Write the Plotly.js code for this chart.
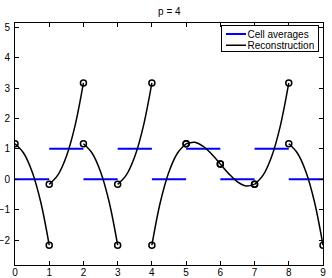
<!DOCTYPE html>
<html>
<head>
<meta charset="utf-8">
<script src="https://cdn.plot.ly/plotly-3.0.1.min.js"></script>
<style>html,body{margin:0;padding:0;background:#fff;}#chart{width:332px;height:278px;}</style>
</head>
<body>
<div id="chart"></div>
<script>
// Cell edges and cell averages
var cellLeft = [0, 1, 2, 3, 4, 5, 6, 7, 8];
var cellAverages = [0, 1, 0, 1, 0, 1, 0, 1, 0];
// Sample positions inside each cell (offset from cell's left edge)
var sampleOffsets = [0, 0.25, 0.5, 0.75, 1];
// Reconstruction values read at those positions in each cell
var recon0 = [1.167, 0.865, 0.25, -0.74, -2.167];
var recon1 = [-0.167, 0.135, 0.75, 1.74, 3.167];
var recon2 = [1.167, 0.865, 0.25, -0.74, -2.167];
var recon3 = [-0.167, 0.135, 0.75, 1.74, 3.167];
var recon4 = [-2.167, -0.74, 0.25, 0.865, 1.167];
var recon5 = [1.167, 1.219, 1.083, 0.823, 0.5];
var recon6 = [0.5, 0.177, -0.083, -0.219, -0.167];
var recon7 = [-0.167, 0.135, 0.75, 1.74, 3.167];
var recon8 = [1.167, 0.865, 0.25, -0.74, -2.167];
var reconCells = [recon0, recon1, recon2, recon3, recon4, recon5, recon6, recon7, recon8];

var avgX = [], avgY = [];
cellLeft.forEach(function (l, i) {
  avgX.push(l, l + 1, null);
  avgY.push(cellAverages[i], cellAverages[i], null);
});

var recX = [], recY = [], endX = [], endY = [];
reconCells.forEach(function (vals, i) {
  vals.forEach(function (v, k) {
    recX.push(cellLeft[i] + sampleOffsets[k]);
    recY.push(v);
  });
  recX.push(null); recY.push(null);
  endX.push(cellLeft[i] + sampleOffsets[0], cellLeft[i] + sampleOffsets[sampleOffsets.length - 1]);
  endY.push(vals[0], vals[vals.length - 1]);
});

var traces = [
  {x: avgX, y: avgY, mode: 'lines', name: 'Cell averages',
   line: {color: '#0000ff', width: 2}, connectgaps: false},
  {x: recX, y: recY, mode: 'lines', name: 'Reconstruction',
   line: {color: '#000000', width: 1.5, shape: 'spline', smoothing: 1}, connectgaps: false},
  {x: endX, y: endY, mode: 'markers', showlegend: false, hoverinfo: 'skip',
   marker: {symbol: 'circle-open', size: 6, color: '#000000', line: {width: 1.5, color: '#000000'}}}
];

var fontFam = 'Liberation Sans, Arial, sans-serif';
var axisCommon = {
  showgrid: false, zeroline: false, showline: true, linecolor: '#000', linewidth: 1,
  mirror: 'ticks', ticks: 'inside', ticklen: 4, tickcolor: '#000', tickwidth: 1,
  tickfont: {family: fontFam, size: 10, color: '#000'}
};

var layout = {
  width: 332, height: 278,
  margin: {l: 15, r: 9, t: 23, b: 13, pad: 0},
  paper_bgcolor: '#fff', plot_bgcolor: '#fff',
  title: {text: 'p = 4', x: 0.51, xanchor: 'center', y: 0.957, yanchor: 'middle',
          font: {family: fontFam, size: 10, color: '#000'}},
  xaxis: Object.assign({}, axisCommon, {range: [0, 9], tickvals: [0,1,2,3,4,5,6,7,8,9], automargin: false, ticklabelstandoff: -2}),
  yaxis: Object.assign({}, axisCommon, {range: [-2.82, 5.14], tickvals: [-2,-1,0,1,2,3,4,5], automargin: false, ticklabelstandoff: 2}),
  showlegend: true,
  legend: {x: 0.996, xanchor: 'right', y: 0.979, yanchor: 'top',
           bgcolor: '#fff', bordercolor: '#000', borderwidth: 1,
           font: {family: fontFam, size: 10, color: '#000'},
           tracegroupgap: 0, itemwidth: 30}
};

Plotly.newPlot('chart', traces, layout, {staticPlot: true, displayModeBar: false}).then(function (gd) {
  // Compact the legend box to match the MATLAB-style legend
  var leg = gd.querySelector('g.legend');
  if (!leg) return;
  leg.setAttribute('transform', 'translate(221.5,25)');
  var bg = leg.querySelector('rect.bg');
  if (bg) {
    bg.setAttribute('x', '0'); bg.setAttribute('y', '0');
    bg.setAttribute('width', '97'); bg.setAttribute('height', '26');
  }
  var items = leg.querySelectorAll('g.traces');
  items.forEach(function (it, i) {
    it.setAttribute('transform', 'translate(0,' + (9 + i * 11.3) + ')');
    it.querySelectorAll('g.legendlines path, path.js-line').forEach(function (ln) {
      ln.setAttribute('d', 'M4.5,0h20');
    });
    var tx = it.querySelector('text.legendtext');
    if (tx) tx.setAttribute('x', '26');
  });
});
</script>
</body>
</html>
